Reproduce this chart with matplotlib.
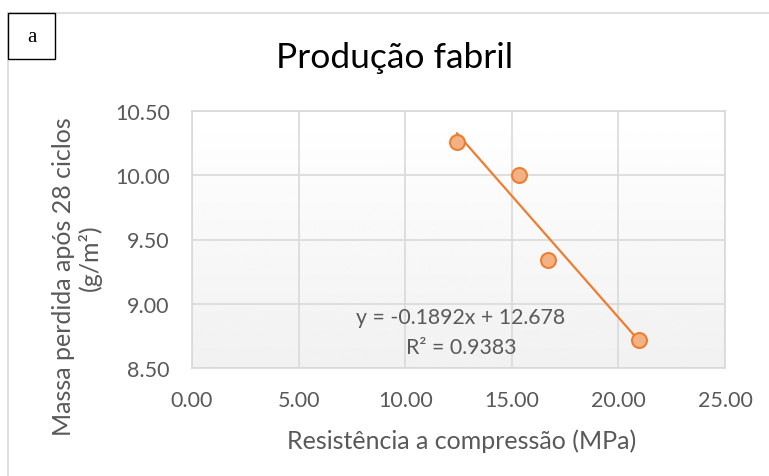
import numpy as np
import matplotlib.pyplot as plt
from matplotlib.patches import Rectangle
from matplotlib.lines import Line2D

# Compressive strength (MPa) vs. mass lost after 28 cycles (g/m²)
resistencia = [12.43, 15.34, 16.70, 20.97]
massa_perdida = [10.26, 10.00, 9.34, 8.72]
slope = -0.1892
intercept = 12.678
r2 = 0.9383

x_ticks = [0, 5, 10, 15, 20, 25]
y_ticks = [8.5, 9.0, 9.5, 10.0, 10.5]

plt.rcParams['font.family'] = ['Lato', 'DejaVu Sans']

W, H = 769, 477
fig = plt.figure(figsize=(W / 100, H / 100), dpi=100)


def fx(px):
    return px / W


def fy(py):
    return 1 - py / H


# outer chart frame (top and left edges)
fig.add_artist(Line2D([fx(8), 1], [fy(14), fy(14)], color='#D9D9D9', lw=1.2))
fig.add_artist(Line2D([fx(8), fx(8)], [0, fy(14)], color='#D9D9D9', lw=1.2))

# panel letter box
fig.add_artist(Rectangle((fx(8), fy(60)), 47 / W, 46 / H, transform=fig.transFigure,
                         facecolor='white', edgecolor='black', lw=1.0, zorder=5))
fig.text(fx(31.5), fy(37), 'a', family='Liberation Serif', fontsize=15,
         ha='center', va='center', zorder=6)

left, right, top, bottom = 192, 725, 112, 369
ax = fig.add_axes([fx(left), fy(bottom), (right - left) / W, (bottom - top) / H])

# plot-area background: white at the top fading to light grey
grad = np.linspace(1.0, 0.945, 256).reshape(-1, 1)
ax.imshow(grad, cmap='gray', vmin=0, vmax=1, aspect='auto',
          extent=[x_ticks[0], x_ticks[-1], y_ticks[0], y_ticks[-1]],
          origin='upper', zorder=0)

ax.set_xlim(x_ticks[0], x_ticks[-1])
ax.set_ylim(y_ticks[0], y_ticks[-1])
ax.set_xticks(x_ticks)
ax.set_yticks(y_ticks)
ax.set_xticklabels([f'{v:.2f}' for v in x_ticks])
ax.set_yticklabels([f'{v:.2f}' for v in y_ticks])
ax.tick_params(length=0, labelsize=15.5, labelcolor='#595959')
ax.tick_params(axis='x', pad=16)
ax.tick_params(axis='y', pad=16)
ax.grid(True, color='#D9D9D9', lw=1.2, zorder=1)
for s in ax.spines.values():
    s.set_color('#D9D9D9')
    s.set_linewidth(1.2)

# linear trend line over the data range
xs = np.array([min(resistencia), max(resistencia)])
ax.plot(xs, slope * xs + intercept, color='#ED7D31', lw=1.6, zorder=3)
ax.scatter(resistencia, massa_perdida, s=115, facecolor='#F4B183',
           edgecolor='#ED7D31', linewidth=1.5, zorder=4)

ax.text(12.58, 8.895, f'y = {slope:.4f}x + {intercept:.3f}', fontsize=15.3,
        color='#595959', ha='center', va='center', zorder=5)
ax.text(12.62, 8.66, f'R² = {r2:.4f}', fontsize=15.3,
        color='#595959', ha='center', va='center', zorder=5)

fig.text(fx(395), fy(58), 'Produção fabril', fontsize=25.5, color='black',
         ha='center', va='center')
fig.text(fx(462), fy(441), 'Resistência a compressão (MPa)', fontsize=18,
         color='#595959', ha='center', va='center')
fig.text(fx(64), fy(277), 'Massa perdida após 28 ciclos', fontsize=18,
         color='#595959', ha='center', va='center', rotation=90)
fig.text(fx(90), fy(258), '(g/m²)', fontsize=18,
         color='#595959', ha='center', va='center', rotation=90)

fig.savefig('out.png', dpi=100, facecolor='white')
